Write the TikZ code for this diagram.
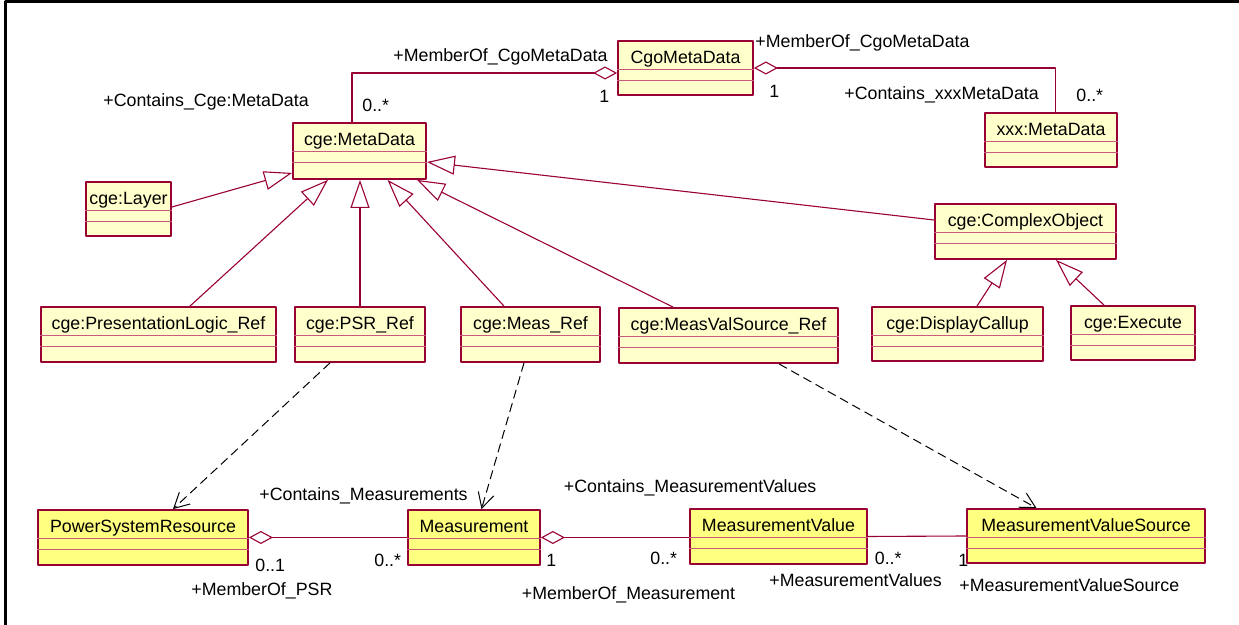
\documentclass[tikz,border=0pt]{standalone}
\usepackage{fontspec}
\setmainfont{Liberation Sans}
\usetikzlibrary{arrows.meta,calc,fit}
\definecolor{umlred}{RGB}{153,0,51}
\definecolor{rulecol}{RGB}{200,90,125}
\definecolor{metafill}{RGB}{255,255,204}
\definecolor{modelfill}{RGB}{255,255,128}
\tikzset{
  clsbox/.style={draw=umlred, line width=0.9pt, inner sep=0pt},
  clsname/.style={inner sep=0pt, anchor=base},
  clsrule/.style={draw=rulecol, line width=0.5pt},
  lbl/.style={inner sep=0pt, anchor=base west},
  gen/.style={draw=umlred, line width=0.55pt, -{Triangle[open, length=14pt, width=9.5pt, line width=0.55pt]}},
  agg/.style={draw=umlred, line width=0.55pt, {Diamond[open, length=12pt, width=6.5pt, line width=0.55pt]}-},
  assoc/.style={draw=umlred, line width=0.55pt},
  dep/.style={draw=black, line width=0.5pt, dash pattern=on 4.5pt off 2.5pt, -{Straight Barb[length=7.5pt, width=8pt, line width=0.5pt]}}
}
% class box: [fill]{name}{left}{top}{right}{bottom}{title}
\newcommand{\umlclass}[7][metafill]{%
  \node[clsbox, fill=#1, fit={(#3,#4) (#5,#6)}] (#2) {};
  \node[clsname] (#2-t) at ($(#2.north)+(0,23)$) {#7};
  \draw[clsrule] ($(#2.north west)+(0,29.5)$) -- ($(#2.north east)+(0,29.5)$);
  \draw[clsrule] ($(#2.north west)+(0,40.5)$) -- ($(#2.north east)+(0,40.5)$);
}
\begin{document}
\begin{tikzpicture}[x=0.5pt, y=-0.5pt, line join=round, font=\fontsize{8.9}{10.7}\selectfont]
  \useasboundingbox (0,0) rectangle (1239,625);
  \draw[line width=1.4pt] (5.5,625) -- (5.5,1.5) -- (1239,1.5);

  % metadata classes
  \umlclass{cgo}{618}{41}{753}{95}{CgoMetaData}
  \umlclass{xxx}{985}{113}{1117}{167}{xxx:MetaData}
  \umlclass{meta}{293}{123}{426}{179}{cge:MetaData}
  \umlclass{layer}{86}{182}{171}{236}{cge:Layer}
  \umlclass{complex}{935}{204}{1116}{259}{cge:ComplexObject}
  \umlclass{plr}{41}{307}{276}{362}{cge:PresentationLogic\_Ref}
  \umlclass{psrref}{295}{307}{425}{362}{cge:PSR\_Ref}
  \umlclass{measref}{461}{307}{600}{362}{cge:Meas\_Ref}
  \umlclass{mvsref}{619}{308}{838}{363}{cge:MeasValSource\_Ref}
  \umlclass{display}{872}{307}{1043}{361}{cge:DisplayCallup}
  \umlclass{execute}{1071}{306}{1195}{360}{cge:Execute}

  % model classes
  \umlclass[modelfill]{psr}{38}{510}{248}{565}{PowerSystemResource}
  \umlclass[modelfill]{meas}{408}{510}{540}{565}{Measurement}
  \umlclass[modelfill]{mv}{690}{509}{867}{564}{MeasurementValue}
  \umlclass[modelfill]{mvs}{967}{509}{1205}{563}{MeasurementValueSource}

  % aggregations at the top
  \draw[agg] ($(cgo.west)+(0,5)$) -| ($(meta.north)+(-7.5,0)$);
  \draw[agg] (cgo.east) -| ($(xxx.north)+(4.5,0)$);
  \node[lbl] (lMemCgoL) at (393,61.5) {+MemberOf\_CgoMetaData};
  \node[lbl] (lOneL) at (599,103) {1};
  \node[lbl] (lContCge) at (103,107) {+Contains\_Cge:MetaData};
  \node[lbl] (lManyMeta) at (362,112) {0..*};
  \node[lbl] (lMemCgoR) at (755,47.5) {+MemberOf\_CgoMetaData};
  \node[lbl] (lOneR) at (769,98) {1};
  \node[lbl] (lContXxx) at (844,100) {+Contains\_xxxMetaData};
  \node[lbl] (lManyXxx) at (1076,101.5) {0..*};

  % generalizations
  \draw[gen] ($(layer.east)+(0,-2)$) -- ($(meta.south west)+(0,-7)$);
  \draw[gen] ($(plr.north)+(31.5,0)$) -- ($(meta.south)+(-31.5,0)$);
  \draw[gen] (psrref.north) -- (psrref.north |- meta.south);
  \draw[gen] ($(measref.north)+(-26.5,0)$) -- ($(meta.south)+(28,0)$);
  \draw[gen] ($(mvsref.north)+(-55.5,0)$) -- ($(meta.south)+(57.5,0)$);
  \draw[gen] ($(complex.west)+(0,-11.5)$) -- ($(meta.east)+(0,11)$);
  \draw[gen] ($(display.north)+(19.5,0)$) -- ($(complex.south)+(-18.5,0)$);
  \draw[gen] ($(execute.north)+(-29,0)$) -- ($(complex.south)+(30.5,0)$);

  % dependencies
  \draw[dep] ($(psrref.south)+(-30,0)$) -- ($(psr.north)+(30,0)$);
  \draw[dep] ($(measref.south)+(-6.5,0)$) -- ($(meas.north)+(7.5,0)$);
  \draw[dep] ($(mvsref.south)+(50.5,0)$) -- ($(mvs.north)+(-49.5,0)$);

  % associations at the bottom
  \draw[agg] (psr.east) -- (meas.west);
  \draw[agg] (meas.east) -- (meas.east -| mv.west);
  \draw[assoc] (mv.east) -- (mvs.west);
  \node[lbl] (lContMeas) at (259,501) {+Contains\_Measurements};
  \node[lbl] (lPsrMult) at (255,571.5) {0..1};
  \node[lbl] (lMemPsr) at (191,596) {+MemberOf\_PSR};
  \node[lbl] (lMeasMult) at (374,567) {0..*};
  \node[lbl] (lMeasOne) at (546,566.5) {1};
  \node[lbl] (lContMV) at (563.5,493) {+Contains\_MeasurementValues};
  \node[lbl] (lMemMeas) at (521.5,600) {+MemberOf\_Measurement};
  \node[lbl] (lMVMultL) at (650,565) {0..*};
  \node[lbl] (lMVMultR) at (874.5,565) {0..*};
  \node[lbl] (lMVSOne) at (958,566.5) {1};
  \node[lbl] (lMVals) at (769,586.5) {+MeasurementValues};
  \node[lbl] (lMVSrc) at (959,592) {+MeasurementValueSource};
\end{tikzpicture}
\end{document}
